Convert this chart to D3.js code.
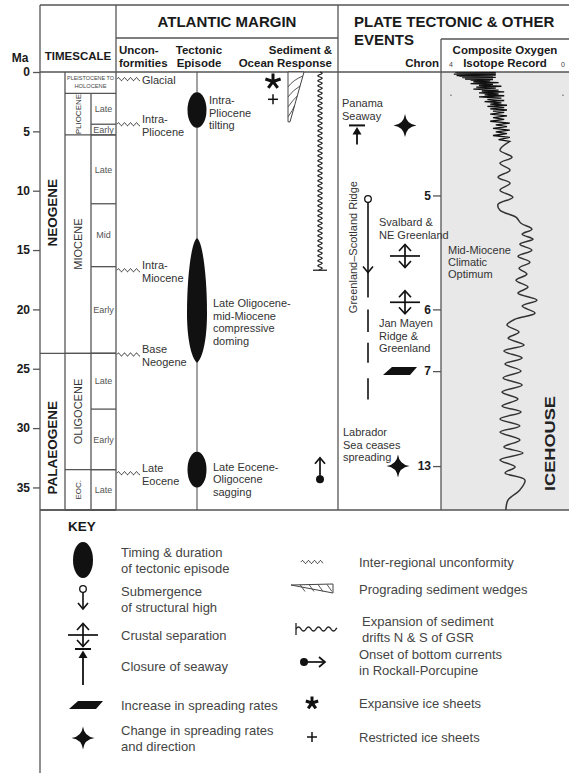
<!DOCTYPE html>
<html>
<head>
<meta charset="utf-8">
<script src="https://cdn.jsdelivr.net/npm/d3@7"></script>
<style>
  body { margin: 0; background: #fff; }
  svg { display: block; font-family: "Liberation Sans", Arial, sans-serif; }
</style>
</head>
<body>
<div id="chart"></div>
<script>
// ---- data (ages in Ma) ----
const maTicks = [0, 5, 10, 15, 20, 25, 30, 35];
const periods = [
  { name: 'NEOGENE', from: 0, to: 23.7 },
  { name: 'PALAEOGENE', from: 23.7, to: 36.9 },
];
const quaternary = { name: ['PLEISTOCENE TO', 'HOLOCENE'], from: 0, to: 1.8 };
const epochs = [
  { name: 'PLIOCENE', from: 1.8, to: 5.3 },
  { name: 'MIOCENE', from: 5.3, to: 23.7 },
  { name: 'OLIGOCENE', from: 23.7, to: 33.5 },
  { name: 'EOC.', from: 33.5, to: 36.9 },
];
const subEpochs = [
  { name: 'Late', from: 1.8, to: 4.4 },
  { name: 'Early', from: 4.4, to: 5.3 },
  { name: 'Late', from: 5.3, to: 11.1 },
  { name: 'Mid', from: 11.1, to: 16.4 },
  { name: 'Early', from: 16.4, to: 23.7 },
  { name: 'Late', from: 23.7, to: 28.4 },
  { name: 'Early', from: 28.4, to: 33.5 },
  { name: 'Late', from: 33.5, to: 36.9 },
];
const unconformities = [
  { label: ['Glacial'], age: 0.6 },
  { label: ['Intra-', 'Pliocene'], age: 4.4 },
  { label: ['Intra-', 'Miocene'], age: 16.7 },
  { label: ['Base', 'Neogene'], age: 23.8 },
  { label: ['Late', 'Eocene'], age: 33.8 },
];
const tectonicEpisodes = [
  { label: ['Intra-', 'Pliocene', 'tilting'], from: 1.7, to: 4.7, labelAt: 2.7, shape: 'ellipse' },
  { label: ['Late Oligocene-', 'mid-Miocene', 'compressive', 'doming'], from: 14.0, to: 24.5, labelAt: 19.8, shape: 'lens' },
  { label: ['Late Eocene-', 'Oligocene', 'sagging'], from: 32.0, to: 35.0, labelAt: 33.6, shape: 'ellipse' },
];
const iceSheets = [
  { type: 'expansive', age: 0.8 },
  { type: 'restricted', age: 2.3 },
];
const wedges = [{ from: 0, to: 4.2 }];
const drifts = [{ from: 0, to: 16.7 }];
const bottomCurrents = [{ from: 34.3, to: 32.5 }];

const chrons = [
  { label: '5', age: 10.4 },
  { label: '6', age: 20.0 },
  { label: '7', age: 25.2 },
  { label: '13', age: 33.2 },
];
const seawayClosure = { from: 4.5, to: 6.1, label: ['Panama', 'Seaway'] };
const spreadingChanges = [
  { age: 4.5, col: 'events' },
  { age: 33.2, col: 'labrador', label: ['Labrador', 'Sea ceases', 'spreading'], labelAt: 30.7 },
];
const gsrSegments = [[10.7, 19.0], [20.0, 21.9], [22.8, 24.5], [25.8, 27.6]];
const gsrArrowAt = 16.9;
const crustalSeparations = [
  { age: 15.5, label: ['Svalbard &', 'NE Greenland'], labelAt: 13.0 },
  { age: 19.4, label: ['Jan Mayen', 'Ridge &', 'Greenland'], labelAt: 21.5 },
];
const spreadingIncrease = [{ age: 25.2 }];

// composite oxygen isotope record [age Ma, d18O permil]
const glacialCycles = [
  [0.00, 3.85], [0.03, 2.4], [0.06, 3.8], [0.09, 2.5], [0.12, 3.7], [0.15, 2.4], [0.18, 3.9],
  [0.21, 2.5], [0.24, 3.6], [0.27, 2.4], [0.30, 3.8], [0.33, 2.5], [0.36, 3.7], [0.39, 2.6],
  [0.42, 3.5], [0.45, 2.4], [0.48, 3.6], [0.51, 2.5], [0.54, 3.4], [0.57, 2.6], [0.60, 3.5],
  [0.64, 2.5], [0.68, 3.3], [0.75, 2.6], [0.82, 3.2], [0.90, 2.3], [0.98, 3.3], [1.05, 2.5],
  [1.12, 3.0], [1.20, 2.2], [1.28, 3.1], [1.36, 2.4], [1.44, 3.2], [1.52, 2.3], [1.60, 2.9],
  [1.68, 2.1], [1.76, 3.0], [1.84, 2.3], [1.92, 2.8], [2.00, 2.1], [2.10, 3.0], [2.20, 2.2],
  [2.30, 2.7], [2.40, 2.1], [2.50, 2.8], [2.60, 2.2], [2.70, 2.6], [2.80, 2.0], [2.90, 2.7],
  [3.00, 2.1], [3.10, 2.6], [3.20, 2.0], [3.30, 2.5], [3.40, 2.1], [3.55, 2.6], [3.70, 2.0],
  [3.85, 2.5], [4.00, 2.1], [4.15, 2.6], [4.30, 1.9], [4.45, 2.4], [4.60, 2.0], [4.75, 2.5],
  [4.90, 1.9], [5.05, 2.4], [5.20, 2.0], [5.35, 2.5], [5.50, 1.9], [5.70, 2.3], [5.85, 1.9],
  [6.00, 2.0],
];
const isotopeRecord = [
  [6.0, 2.0], [6.59, 2.25], [7.18, 1.82], [7.68, 2.25], [8.27, 1.89], [8.86, 2.32], [9.37, 1.89],
  [9.96, 2.25], [10.55, 1.79], [11.14, 2.32], [11.64, 2.25], [12.23, 1.68], [12.74, 1.5],
  [13.24, 1.11], [13.66, 1.46], [14.08, 1.07], [14.51, 1.54], [15.01, 1.11], [15.52, 1.61],
  [16.02, 1.18], [16.53, 1.57], [17.03, 1.29], [17.54, 1.68], [18.12, 1.25], [18.63, 1.61],
  [19.22, 0.93], [19.72, 1.46], [20.31, 1.0], [20.82, 1.71], [21.32, 2.0], [21.91, 1.57],
  [22.42, 1.96], [23.0, 1.39], [23.51, 2.11], [24.1, 1.46], [24.6, 2.07], [25.19, 1.5],
  [25.78, 2.14], [26.37, 1.46], [26.96, 2.18], [27.55, 1.61], [28.14, 2.18], [28.64, 1.5],
  [29.23, 2.25], [29.82, 1.54], [30.33, 2.25], [31.0, 1.54], [31.59, 2.11], [32.1, 1.43],
  [32.68, 2.25], [33.27, 1.71], [33.78, 2.07], [34.37, 1.36], [35.21, 1.54], [36.05, 1.96],
  [36.9, 2.04],
];

const keyLeft = [
  { sym: 'ellipse', text: ['Timing & duration', 'of tectonic episode'] },
  { sym: 'submergence', text: ['Submergence', 'of structural high'] },
  { sym: 'crustal', text: ['Crustal separation'] },
  { sym: 'closure', text: ['Closure of seaway'] },
  { sym: 'increase', text: ['Increase in spreading rates'] },
  { sym: 'star', text: ['Change in spreading rates', 'and direction'] },
];
const keyRight = [
  { sym: 'unconformity', text: ['Inter-regional unconformity'] },
  { sym: 'wedge', text: ['Prograding sediment wedges'] },
  { sym: 'drift', text: ['Expansion of sediment', 'drifts N & S of GSR'] },
  { sym: 'current', text: ['Onset of bottom currents', 'in Rockall-Porcupine'] },
  { sym: 'expansive', text: ['Expansive ice sheets'] },
  { sym: 'restricted', text: ['Restricted ice sheets'] },
];

// ---- layout ----
const W = 570;
const H = 773;
const X = {
  left: 40, epoch: 65, sub: 91, margin: 116, tect: 197, ice: 273, wedge: 288, drift: 320,
  plate: 338, panama: 357, gsr: 368, events: 405, labrador: 398, iso: 441, right: 569,
};
const lineColor = '#555';
const ink = '#1a1a1a';

const svg = d3.select('#chart')
  .append('svg')
    .attr('width', W)
    .attr('height', H)
    .attr('viewBox', `0 0 ${W} ${H}`);

const yMa = d3.scaleLinear().domain([0, 36.9]).range([72, 510]);
const xIso = d3.scaleLinear().domain([4, 0]).range([451, 563]);

// isotope panel background
svg.append('rect')
  .attr('x', X.iso).attr('y', yMa(0))
  .attr('width', X.right - X.iso).attr('height', yMa(36.9) - yMa(0))
  .attr('fill', '#e8e8e8');

// frame
const frame = svg.append('g')
  .attr('stroke', lineColor)
  .attr('stroke-width', 1.3)
  .attr('fill', 'none');
const seg = (x1, y1, x2, y2, w) => frame.append('line')
  .attr('x1', x1).attr('y1', y1).attr('x2', x2).attr('y2', y2)
  .attr('stroke-width', w || null);

seg(X.left, 5, X.right, 5);
seg(X.left, 5, X.left, H);
seg(X.margin, 5, X.margin, yMa(36.9));
seg(X.plate, 5, X.plate, yMa(36.9));
seg(X.margin, 38, X.plate, 38);
seg(X.iso, 39, X.right, 39);
seg(X.iso, 39, X.iso, yMa(36.9));
seg(X.left, yMa(0), X.right, yMa(0));
seg(X.left, yMa(36.9), X.right, yMa(36.9));
seg(X.epoch, yMa(0), X.epoch, yMa(36.9));
seg(X.sub, yMa(quaternary.to), X.sub, yMa(36.9));
seg(X.tect, yMa(0), X.tect, yMa(36.9), 1.1);

periods.forEach(p => seg(X.left, yMa(p.to), X.margin, yMa(p.to)));
seg(X.epoch, yMa(quaternary.to), X.margin, yMa(quaternary.to));
epochs.forEach(e => seg(X.epoch, yMa(e.to), X.margin, yMa(e.to)));
subEpochs.forEach(s => seg(X.sub, yMa(s.to), X.margin, yMa(s.to)));

// text helper
const lines = (g, x, y0, arr, lh, size, opts = {}) => {
  const t = g.append('text')
    .attr('x', x).attr('y', y0)
    .attr('font-size', size)
    .attr('fill', opts.fill || '#333')
    .attr('font-weight', opts.bold ? 'bold' : null)
    .attr('text-anchor', opts.anchor || 'start');
  arr.forEach((s, i) => t.append('tspan').attr('x', x).attr('y', y0 + i * lh).text(s));
  return t;
};

// headers
const head = svg.append('g');
lines(head, 20, 62, ['Ma'], 0, 12, { bold: true, fill: ink, anchor: 'middle' });
lines(head, 78, 60, ['TIMESCALE'], 0, 11.5, { bold: true, fill: ink, anchor: 'middle' });
lines(head, 227, 27, ['ATLANTIC MARGIN'], 0, 15, { bold: true, fill: ink, anchor: 'middle' });
lines(head, 119, 54, ['Uncon-', 'formities'], 13, 11.5, { bold: true, fill: ink });
lines(head, 199, 54, ['Tectonic', 'Episode'], 13, 11.5, { bold: true, fill: ink, anchor: 'middle' });
lines(head, 332, 54, ['Sediment &', 'Ocean Response'], 13, 11.5, { bold: true, fill: ink, anchor: 'end' });
lines(head, 354, 27, ['PLATE TECTONIC & OTHER', 'EVENTS'], 18, 15, { bold: true, fill: ink });
lines(head, 439, 67, ['Chron'], 0, 11.5, { bold: true, fill: ink, anchor: 'end' });
lines(head, 505, 54, ['Composite Oxygen', 'Isotope Record'], 13, 11.5, { bold: true, fill: ink, anchor: 'middle' });
lines(head, xIso(4), 67, ['4'], 0, 7, { fill: '#444', anchor: 'middle' });
lines(head, xIso(0), 67, ['0'], 0, 7, { fill: '#444', anchor: 'middle' });
[4, 0].forEach(v => head.append('circle')
  .attr('cx', xIso(v)).attr('cy', yMa(1.95)).attr('r', 0.7).attr('fill', '#444'));

// Ma axis
const axisMa = d3.axisLeft(yMa)
  .tickValues(maTicks)
  .tickSize(7)
  .tickPadding(3);
const gMa = svg.append('g')
  .attr('transform', `translate(${X.left}, 0)`)
  .call(axisMa);
gMa.select('.domain').remove();
gMa.selectAll('line').attr('stroke', lineColor).attr('stroke-width', 1.3);
gMa.selectAll('text')
  .attr('font-family', 'Liberation Sans, Arial, sans-serif')
  .attr('font-size', 12).attr('font-weight', 'bold').attr('fill', ink);

// chron axis
const axisChron = d3.axisLeft(yMa)
  .tickValues(chrons.map(c => c.age))
  .tickFormat(d => chrons.find(c => c.age === d).label)
  .tickSize(8)
  .tickPadding(2);
const gChron = svg.append('g')
  .attr('transform', `translate(${X.iso}, 0)`)
  .call(axisChron);
gChron.select('.domain').remove();
gChron.selectAll('line').attr('stroke', lineColor).attr('stroke-width', 1.3);
gChron.selectAll('text')
  .attr('font-family', 'Liberation Sans, Arial, sans-serif')
  .attr('font-size', 12).attr('font-weight', 'bold').attr('fill', ink);

// timescale labels
const ts = svg.append('g');
const labelNudge = { PALAEOGENE: 16 };
periods.forEach(p => {
  const cy = (yMa(p.from) + yMa(p.to)) / 2 + (labelNudge[p.name] || 0);
  ts.append('text')
    .attr('transform', `translate(${(X.left + X.epoch) / 2}, ${cy}) rotate(-90)`)
    .attr('text-anchor', 'middle').attr('dy', '0.36em')
    .attr('font-size', 13.5).attr('font-weight', 'bold').attr('fill', ink)
    .text(p.name);
});
epochs.forEach(e => {
  const cy = (yMa(e.from) + yMa(e.to)) / 2;
  const small = yMa(e.to) - yMa(e.from) < 50;
  ts.append('text')
    .attr('transform', `translate(${(X.epoch + X.sub) / 2}, ${cy}) rotate(-90)`)
    .attr('text-anchor', 'middle').attr('dy', '0.36em')
    .attr('font-size', small ? 8 : 11).attr('fill', '#333')
    .text(e.name);
});
quaternary.name.forEach((s, i) => ts.append('text')
  .attr('x', (X.epoch + X.margin) / 2).attr('y', yMa(quaternary.from) + 8 + i * 8)
  .attr('text-anchor', 'middle').attr('font-size', 6).attr('fill', '#444')
  .attr('textLength', i === 0 ? 47 : 32).attr('lengthAdjust', 'spacingAndGlyphs')
  .text(s));
subEpochs.forEach(s => ts.append('text')
  .attr('x', (X.sub + X.margin) / 2).attr('y', (yMa(s.from) + yMa(s.to)) / 2)
  .attr('dy', '0.36em').attr('text-anchor', 'middle')
  .attr('font-size', 9).attr('fill', '#555')
  .text(s.name));

// wave generators
const hWave = (x0, x1, y, amp, period) => d3.line()(
  d3.range(x0, x1 + 0.01, 0.5).map(x => [x, y - amp * Math.sin((2 * Math.PI * (x - x0)) / period)]));
const vWave = (x, y0, y1, amp, period) => d3.line()(
  d3.range(y0, y1 + 0.01, 0.5).map(y => [x + amp * Math.sin((2 * Math.PI * (y - y0)) / period), y]));

// ---- symbol drawers ----
const sym = {
  ellipse: (g, cx, cy, rx, ry) => g.append('ellipse')
    .attr('cx', cx).attr('cy', cy).attr('rx', rx).attr('ry', ry).attr('fill', '#111'),
  lens: (g, cx, yT, yB, r) => g.append('path')
    .attr('fill', '#111')
    .attr('d', `M${cx},${yT} C${cx + 5},${yT + 2} ${cx + r},${yT + 35} ${cx + r},${yT + 75}
      C${cx + r},${yB - 25} ${cx + 6},${yB - 5} ${cx},${yB}
      C${cx - 6},${yB - 5} ${cx - r},${yB - 25} ${cx - r},${yT + 75}
      C${cx - r},${yT + 35} ${cx - 5},${yT + 2} ${cx},${yT}Z`),
  star: (g, cx, cy, r) => {
    const k = 1.3;
    g.append('path').attr('fill', '#111')
      .attr('d', `M${cx},${cy - r} Q${cx + k},${cy - k} ${cx + r},${cy} Q${cx + k},${cy + k} ${cx},${cy + r}
        Q${cx - k},${cy + k} ${cx - r},${cy} Q${cx - k},${cy - k} ${cx},${cy - r}Z`);
  },
  crustal: (g, cx, cy) => {
    const s = g.append('g').attr('stroke', '#111').attr('stroke-width', 1.7).attr('fill', 'none');
    s.append('line').attr('x1', cx - 15).attr('x2', cx + 15).attr('y1', cy).attr('y2', cy);
    s.append('line').attr('x1', cx).attr('x2', cx).attr('y1', cy - 11.5).attr('y2', cy + 11.5);
    s.append('path').attr('d', `M${cx - 6},${cy - 5} L${cx},${cy - 11.5} L${cx + 6},${cy - 5}`);
    s.append('path').attr('d', `M${cx - 6},${cy + 5} L${cx},${cy + 11.5} L${cx + 6},${cy + 5}`);
  },
  closure: (g, cx, yTop, yBot) => {
    g.append('line').attr('x1', cx - 8).attr('x2', cx + 8).attr('y1', yTop).attr('y2', yTop)
      .attr('stroke', '#111').attr('stroke-width', 2);
    g.append('path').attr('fill', '#111')
      .attr('d', `M${cx},${yTop + 1.5} L${cx + 4.5},${yTop + 9} L${cx - 4.5},${yTop + 9}Z`);
    g.append('line').attr('x1', cx).attr('x2', cx).attr('y1', yTop + 8).attr('y2', yBot)
      .attr('stroke', '#111').attr('stroke-width', 1.8);
  },
  increase: (g, cx, cy) => g.append('path').attr('fill', '#111')
    .attr('d', `M${cx - 8},${cy - 4} L${cx + 17},${cy - 4} L${cx + 10},${cy + 4} L${cx - 17},${cy + 4}Z`),
  submergence: (g, cx, yTop, yTip, yEnd) => {
    g.append('line').attr('x1', cx).attr('x2', cx).attr('y1', yTop + 3.3).attr('y2', yEnd)
      .attr('stroke', '#111').attr('stroke-width', 1.6);
    g.append('path').attr('fill', 'none').attr('stroke', '#111').attr('stroke-width', 1.6)
      .attr('d', `M${cx - 5},${yTip - 6} L${cx},${yTip} L${cx + 5},${yTip - 6}`);
    g.append('circle').attr('cx', cx).attr('cy', yTop).attr('r', 3.3)
      .attr('fill', '#fff').attr('stroke', '#111').attr('stroke-width', 1.3);
  },
  asterisk: (g, cx, cy, r) => {
    const a = g.append('g').attr('stroke', '#111').attr('stroke-width', 3);
    [-90, -18, 54, 126, 198].forEach(deg => {
      const t = (deg * Math.PI) / 180;
      a.append('line').attr('x1', cx).attr('y1', cy)
        .attr('x2', cx + r * Math.cos(t)).attr('y2', cy + r * Math.sin(t));
    });
  },
  plus: (g, cx, cy, r) => {
    const p = g.append('g').attr('stroke', '#111').attr('stroke-width', 1.5);
    p.append('line').attr('x1', cx - r).attr('x2', cx + r).attr('y1', cy).attr('y2', cy);
    p.append('line').attr('x1', cx).attr('x2', cx).attr('y1', cy - r).attr('y2', cy + r);
  },
};

// ---- Atlantic margin ----
const am = svg.append('g');
unconformities.forEach(u => {
  const yy = yMa(u.age);
  am.append('path').attr('d', hWave(X.margin + 1, X.margin + 24, yy, 1.5, 6))
    .attr('fill', 'none').attr('stroke', '#333').attr('stroke-width', 1);
  if (u.label.length === 1) {
    lines(am, X.margin + 26, yy + 5, u.label, 0, 11);
  } else {
    lines(am, X.margin + 26, yy - 1.5, u.label, 13, 11);
  }
});

tectonicEpisodes.forEach(t => {
  if (t.shape === 'ellipse') {
    sym.ellipse(am, X.tect, (yMa(t.from) + yMa(t.to)) / 2, 9.5, (yMa(t.to) - yMa(t.from)) / 2);
  } else {
    sym.lens(am, X.tect, yMa(t.from), yMa(t.to), 10);
  }
  const lx = t.shape === 'lens' || t.from > 20 ? X.tect + 16 : X.tect + 12;
  lines(am, lx, yMa(t.labelAt), t.label, 12.5, 11);
});

iceSheets.forEach(s => {
  if (s.type === 'expansive') sym.asterisk(am, X.ice, yMa(s.age), 8);
  else sym.plus(am, X.ice, yMa(s.age), 5);
});

wedges.forEach(w => {
  const y0 = yMa(w.from);
  const y1 = yMa(w.to);
  const x0 = X.wedge;
  const xr = y => x0 + 16 - (14 * (y - y0)) / (y1 - y0);
  am.append('path')
    .attr('d', `M${x0},${y0} L${x0 + 16},${y0} L${x0 + 2},${y1} L${x0},${y1}Z`)
    .attr('fill', '#fff').attr('stroke', '#444').attr('stroke-width', 1);
  [0.08, 0.28, 0.48, 0.68].forEach(f => {
    const ya = y0 + f * (y1 - y0);
    am.append('path')
      .attr('d', `M${xr(ya)},${ya} Q${x0 + 5},${ya + 4} ${x0},${ya + 11}`)
      .attr('fill', 'none').attr('stroke', '#444').attr('stroke-width', 0.9);
  });
});

drifts.forEach(d => {
  const y0 = yMa(d.from);
  const y1 = yMa(d.to);
  am.append('path').attr('d', vWave(X.drift, y0, y1, 2.2, 5))
    .attr('fill', 'none').attr('stroke', '#222').attr('stroke-width', 1.2);
  am.append('line').attr('x1', X.drift - 7).attr('x2', X.drift + 7).attr('y1', y1).attr('y2', y1)
    .attr('stroke', '#222').attr('stroke-width', 1.3);
});

bottomCurrents.forEach(b => {
  const yb = yMa(b.from);
  const yt = yMa(b.to);
  am.append('line').attr('x1', X.drift).attr('x2', X.drift).attr('y1', yb).attr('y2', yt)
    .attr('stroke', '#111').attr('stroke-width', 1.7);
  am.append('path').attr('d', `M${X.drift - 5},${yt + 6} L${X.drift},${yt} L${X.drift + 5},${yt + 6}`)
    .attr('fill', 'none').attr('stroke', '#111').attr('stroke-width', 1.7);
  am.append('circle').attr('cx', X.drift).attr('cy', yb).attr('r', 4).attr('fill', '#111');
});

// ---- plate tectonic events ----
const pt = svg.append('g');
sym.closure(pt, X.panama, yMa(seawayClosure.from), yMa(seawayClosure.to));
lines(pt, X.plate + 4, 107, seawayClosure.label, 13, 11);

spreadingChanges.forEach(s => {
  sym.star(pt, X[s.col], yMa(s.age), 11.5);
  if (s.label) lines(pt, X.plate + 5, yMa(s.labelAt), s.label, 12.5, 11);
});

gsrSegments.forEach(([a, b]) => pt.append('line')
  .attr('x1', X.gsr).attr('x2', X.gsr).attr('y1', yMa(a)).attr('y2', yMa(b))
  .attr('stroke', '#111').attr('stroke-width', 1.6));
sym.submergence(pt, X.gsr, yMa(gsrSegments[0][0]), yMa(gsrArrowAt), yMa(gsrSegments[0][0]) + 4);
pt.append('text')
  .attr('transform', `translate(${X.plate + 15}, ${(yMa(10.0) + yMa(19.5)) / 2}) rotate(-90)`)
  .attr('text-anchor', 'middle').attr('dy', '0.36em')
  .attr('font-size', 11).attr('fill', '#333')
  .text('Greenland–Scotland Ridge');

crustalSeparations.forEach(c => {
  sym.crustal(pt, X.events, yMa(c.age));
  lines(pt, 379, yMa(c.labelAt), c.label, 12.5, 11);
});
spreadingIncrease.forEach(s => sym.increase(pt, 400, yMa(s.age)));

// ---- isotope record ----
svg.append('clipPath').attr('id', 'isoClip')
  .append('rect').attr('x', X.iso + 1).attr('y', yMa(0)).attr('width', X.right - X.iso).attr('height', yMa(36.9) - yMa(0));
const iso = svg.append('g').attr('clip-path', 'url(#isoClip)');
iso.append('path')
  .datum(glacialCycles)
  .attr('d', d3.line().x(d => xIso(d[1])).y(d => yMa(d[0])))
  .attr('fill', 'none').attr('stroke', '#111').attr('stroke-width', 1.3);
iso.append('path')
  .datum(isotopeRecord)
  .attr('d', d3.line().curve(d3.curveCatmullRom).x(d => xIso(d[1])).y(d => yMa(d[0])))
  .attr('fill', 'none').attr('stroke', '#333').attr('stroke-width', 1.5);
lines(svg, 448, 254, ['Mid-Miocene', 'Climatic', 'Optimum'], 12, 11);
svg.append('text')
  .attr('transform', `translate(550, ${yMa(31.3)}) rotate(-90)`)
  .attr('text-anchor', 'middle').attr('dy', '0.36em')
  .attr('font-size', 14).attr('font-weight', 'bold').attr('fill', '#222')
  .attr('textLength', 95).attr('lengthAdjust', 'spacingAndGlyphs')
  .text('ICEHOUSE');

// ---- key ----
const key = svg.append('g');
lines(key, 68, 531, ['KEY'], 0, 13.5, { bold: true, fill: ink });
const keyFont = 13;
const keyFill = '#444';
const leftY = [560, 599, 635, 666, 705, 738];
keyLeft.forEach((k, i) => {
  const cy = leftY[i];
  const cx = 83;
  if (k.sym === 'ellipse') sym.ellipse(key, cx, cy, 10, 18);
  if (k.sym === 'submergence') sym.submergence(key, cx, cy - 10, cy + 10, cy + 10);
  if (k.sym === 'crustal') sym.crustal(key, cx, cy);
  if (k.sym === 'closure') sym.closure(key, cx, cy - 17, cy + 19);
  if (k.sym === 'increase') sym.increase(key, cx + 3, cy);
  if (k.sym === 'star') sym.star(key, cx, cy, 11.5);
  const y0 = k.text.length === 1 ? cy + 5 : cy - 3;
  lines(key, 121, y0, k.text, 15.5, keyFont, { fill: keyFill });
});

const rightY = [562, 589, 629, 662, 703, 737];
keyRight.forEach((k, i) => {
  const cy = rightY[i];
  if (k.sym === 'unconformity') {
    key.append('path').attr('d', hWave(301, 323, cy, 1.5, 6))
      .attr('fill', 'none').attr('stroke', '#333').attr('stroke-width', 1);
  }
  if (k.sym === 'wedge') {
    key.append('path').attr('d', `M291,${cy - 4} L333,${cy - 5} L333,${cy + 4} Z`)
      .attr('fill', '#fff').attr('stroke', '#444').attr('stroke-width', 1);
    [300, 309, 318, 327].forEach(x => key.append('line')
      .attr('x1', x).attr('y1', cy - 4.5).attr('x2', x + 5).attr('y2', cy + 2.5)
      .attr('stroke', '#444').attr('stroke-width', 0.9));
  }
  if (k.sym === 'drift') {
    key.append('path').attr('d', hWave(296, 337, cy, 2, 10))
      .attr('fill', 'none').attr('stroke', '#222').attr('stroke-width', 1.3);
    key.append('line').attr('x1', 296).attr('x2', 296).attr('y1', cy - 6).attr('y2', cy + 6)
      .attr('stroke', '#222').attr('stroke-width', 1.3);
  }
  if (k.sym === 'current') {
    key.append('line').attr('x1', 303).attr('x2', 325).attr('y1', cy).attr('y2', cy)
      .attr('stroke', '#111').attr('stroke-width', 1.7);
    key.append('path').attr('d', `M319,${cy - 5} L325,${cy} L319,${cy + 5}`)
      .attr('fill', 'none').attr('stroke', '#111').attr('stroke-width', 1.7);
    key.append('circle').attr('cx', 304).attr('cy', cy).attr('r', 4).attr('fill', '#111');
  }
  if (k.sym === 'expansive') sym.asterisk(key, 312, cy, 6.5);
  if (k.sym === 'restricted') sym.plus(key, 312, cy, 5);
  const tx = k.sym === 'drift' ? 362 : 359;
  const y0 = k.text.length === 1 ? cy + 5 : cy - 3;
  lines(key, tx, y0, k.text, 15.5, keyFont, { fill: keyFill });
});
</script>
</body>
</html>
